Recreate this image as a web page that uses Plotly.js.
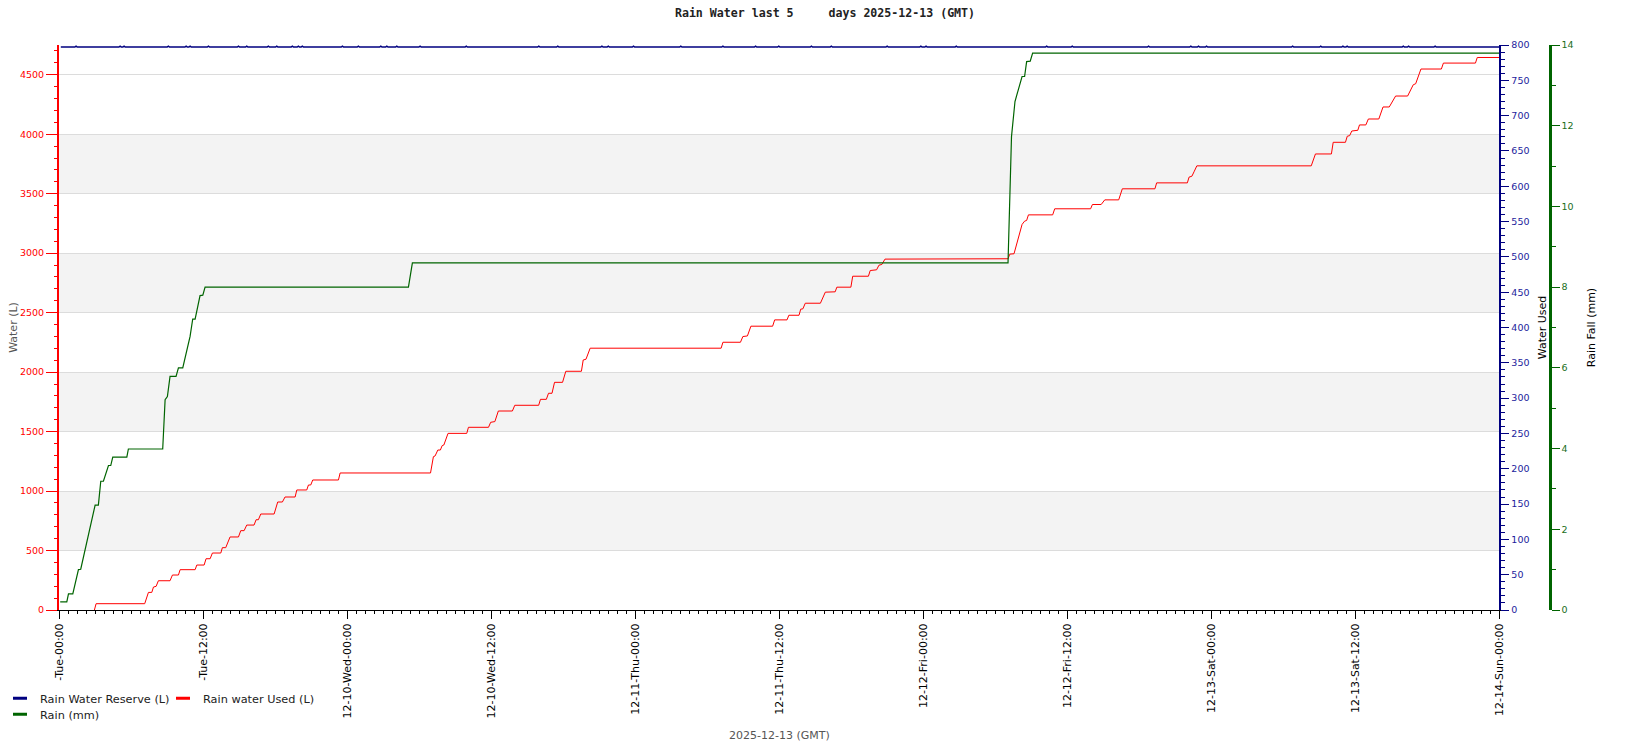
<!DOCTYPE html>
<html>
<head>
<meta charset="utf-8">
<script src="https://cdn.plot.ly/plotly-3.0.1.min.js"></script>
<style>html,body{margin:0;padding:0;background:#fff}#chart{width:1650px;height:750px}</style>
</head>
<body>
<div id="chart"></div>
<script>
// x values are hours since 2025-12-09 00:00 GMT
const tickHours = [0, 12, 24, 36, 48, 60, 72, 84, 96, 108, 120];
const tickLabels = ["-Tue-00:00", "-Tue-12:00", "12-10-Wed-00:00", "12-10-Wed-12:00",
  "12-11-Thu-00:00", "12-11-Thu-12:00", "12-12-Fri-00:00", "12-12-Fri-12:00",
  "12-13-Sat-00:00", "12-13-Sat-12:00", "12-14-Sun-00:00"];

// Rain Water Reserve (L) — [hour, value] on the right "Water Used" axis
const reservePts = [
  [0.15,797],
  [1.32,797],[1.42,798.4],[1.52,797],
  [4.99,797],[5.09,798.4],[5.19,797],
  [5.32,797],[5.42,798.4],[5.52,797],
  [9.01,797],[9.11,798.4],[9.21,797],
  [10.49,797],[10.59,798.4],[10.69,797],
  [10.82,797],[10.92,798.4],[11.02,797],
  [12.35,797],[12.45,798.4],[12.55,797],
  [14.85,797],[14.95,798.4],[15.05,797],
  [15.54,797],[15.64,798.4],[15.74,797],
  [17.34,797],[17.44,798.4],[17.54,797],
  [18.04,797],[18.14,798.4],[18.24,797],
  [19.34,797],[19.44,798.4],[19.54,797],
  [19.84,797],[19.94,798.4],[20.04,797],
  [20.17,797],[20.27,798.4],[20.37,797],
  [23.51,797],[23.61,798.4],[23.71,797],
  [24.84,797],[24.94,798.4],[25.04,797],
  [26.71,797],[26.81,798.4],[26.91,797],
  [27.21,797],[27.31,798.4],[27.41,797],
  [28.04,797],[28.14,798.4],[28.24,797],
  [29.98,797],[30.08,798.4],[30.18,797],
  [33.83,797],[33.93,798.4],[34.03,797],
  [39.87,797],[39.97,798.4],[40.07,797],
  [41.45,797],[41.55,798.4],[41.65,797],
  [45.13,797],[45.23,798.4],[45.33,797],
  [45.66,797],[45.76,798.4],[45.86,797],
  [47.76,797],[47.86,798.4],[47.96,797],
  [51.70,797],[51.80,798.4],[51.90,797],
  [55.21,797],[55.31,798.4],[55.41,797],
  [57.93,797],[58.03,798.4],[58.13,797],
  [59.86,797],[59.96,798.4],[60.06,797],
  [62.58,797],[62.68,798.4],[62.78,797],
  [64.24,797],[64.34,798.4],[64.44,797],
  [68.89,797],[68.99,798.4],[69.09,797],
  [71.70,797],[71.80,798.4],[71.90,797],
  [72.13,797],[72.23,798.4],[72.33,797],
  [74.65,797],[74.75,798.4],[74.85,797],
  [82.18,797],[82.28,798.4],[82.38,797],
  [84.31,797],[84.41,798.4],[84.51,797],
  [90.67,797],[90.77,798.4],[90.87,797],
  [94.19,797],[94.29,798.4],[94.39,797],
  [94.83,797],[94.93,798.4],[95.03,797],
  [95.50,797],[95.60,798.4],[95.70,797],
  [102.67,797],[102.77,798.4],[102.87,797],
  [105.01,797],[105.11,798.4],[105.21,797],
  [106.86,797],[106.96,798.4],[107.06,797],
  [107.21,797],[107.31,798.4],[107.41,797],
  [111.89,797],[111.99,798.4],[112.09,797],
  [112.33,797],[112.43,798.4],[112.53,797],
  [114.54,797],[114.64,798.4],[114.74,797],
  [120,797]
];

// Rain water Used (L) — [hour, litres] on the left axis
const usedPts = [
  [2.95,0],[3.09,53],[7.14,53],[7.45,148],[7.73,148],[7.87,193],[8.09,199],[8.28,246],
  [9.25,246],[9.45,294],[9.95,294],[10.09,339],[11.34,339],[11.48,378],[12.09,378],
  [12.25,431],[12.59,431],[12.78,479],[13.48,479],[13.61,524],[13.89,524],[14.25,614],
  [14.95,614],[15.14,667],[15.42,667],[15.64,714],[16.25,714],[16.42,759],[16.61,759],
  [16.81,807],[17.92,807],[18.22,908],[18.61,908],[18.83,950],[19.67,950],[19.81,1009],
  [20.64,1009],[20.78,1051],[20.97,1051],[21.14,1093],[23.28,1093],[23.42,1152],
  [30.95,1152],[31.19,1289],[31.33,1295],[31.56,1345],[31.77,1345],[31.92,1382],
  [32.06,1387],[32.41,1485],[33.97,1485],[34.11,1536],[35.78,1536],[35.96,1578],
  [36.31,1584],[36.60,1673],[37.77,1673],[37.97,1721],[39.96,1721],[40.11,1771],
  [40.60,1771],[40.78,1822],[41.07,1822],[41.28,1914],[41.95,1914],[42.22,2007],
  [43.52,2007],[43.67,2102],[43.90,2108],[44.25,2201],[55.16,2201],[55.31,2251],
  [56.77,2251],[56.97,2299],[57.35,2304],[57.64,2386],[59.45,2386],[59.62,2439],
  [60.65,2439],[60.80,2478],[61.65,2478],[61.79,2529],[61.97,2532],[62.17,2579],
  [63.43,2579],[63.84,2672],[64.66,2675],[64.80,2714],[65.97,2714],[66.12,2806],
  [67.43,2806],[67.58,2854],[68.11,2860],[68.31,2899],[68.55,2905],[68.81,2950],
  [79.06,2953],[79.21,2992],[79.56,2995],[79.79,3074],[80.00,3149],[80.23,3241],
  [80.44,3269],[80.61,3275],[80.76,3322],[82.78,3322],[82.95,3373],[85.94,3373],
  [86.09,3409],[86.82,3409],[87.12,3448],[88.28,3448],[88.58,3541],[91.30,3541],
  [91.44,3591],[94.00,3591],[94.14,3639],[94.38,3647],[94.58,3689],[94.79,3734],
  [104.32,3734],[104.67,3834],[106.00,3834],[106.15,3932],[107.17,3932],[107.32,3983],
  [107.52,3988],[107.70,4027],[108.20,4033],[108.34,4078],[108.87,4078],[109.08,4128],
  [109.95,4128],[110.30,4229],[110.82,4229],[110.97,4257],[111.35,4321],[112.35,4321],
  [112.58,4366],[112.82,4416],[113.02,4424],[113.46,4548],[115.16,4548],[115.33,4598],
  [118.00,4598],[118.15,4645],[120,4645]
];

// Rain (mm) — [hour, mm] on the Rain Fall axis
const rainPts = [
  [0.10,0.20],[0.65,0.20],[0.79,0.40],[1.15,0.40],[1.62,1.00],[1.81,1.01],[3.01,2.60],
  [3.28,2.60],[3.48,3.19],[3.70,3.19],[4.12,3.58],[4.31,3.58],[4.48,3.79],[5.65,3.79],
  [5.78,3.99],[8.64,3.99],[8.84,5.21],[9.03,5.29],[9.25,5.79],[9.75,5.79],[9.95,6.00],
  [10.31,6.00],[10.92,6.78],[11.14,7.21],[11.34,7.21],[11.75,7.79],[11.98,7.80],
  [12.17,8.00],[29.11,8.00],[29.25,8.23],[29.44,8.60],[79.06,8.60],[79.27,10.66],
  [79.35,11.73],[79.64,12.60],[79.93,12.93],[80.23,13.22],[80.44,13.22],[80.61,13.59],
  [80.91,13.60],[81.11,13.80],[120,13.80]
];

const bandRanges = [[500,1000],[1500,2000],[2500,3000],[3500,4000]];
const xTitle = "2025-12-13 (GMT)";

const FONT = "DejaVu Sans, Verdana, sans-serif";
const col = {reserve:"#000080", used:"#ff0000", rain:"#006400"};

const xs = p => p.map(d => d[0]);
const ys = p => p.map(d => d[1]);

const traces = [
  {x: xs(usedPts), y: ys(usedPts), yaxis: "y", mode: "lines", name: "Rain water Used (L)",
   line: {color: col.used, width: 1}, showlegend: false, hoverinfo: "skip"},
  {x: xs(rainPts), y: ys(rainPts), yaxis: "y3", mode: "lines", name: "Rain (mm)",
   line: {color: col.rain, width: 1.2}, showlegend: false, hoverinfo: "skip"},
  {x: xs(reservePts), y: ys(reservePts), yaxis: "y2", mode: "lines", name: "Rain Water Reserve (L)",
   line: {color: col.reserve, width: 1.5}, showlegend: false, hoverinfo: "skip"},
  // legend entries (short bar symbols like the reference)
  {x: [null], y: [null], mode: "markers", name: "Rain Water Reserve (L)", legend: "legend",
   marker: {symbol: "line-ew", size: 10, color: col.reserve, line: {width: 3, color: col.reserve}}},
  {x: [null], y: [null], mode: "markers", name: "Rain water Used (L)", legend: "legend",
   marker: {symbol: "line-ew", size: 10, color: col.used, line: {width: 3, color: col.used}}},
  {x: [null], y: [null], mode: "markers", name: "Rain (mm)", legend: "legend2",
   marker: {symbol: "line-ew", size: 10, color: col.rain, line: {width: 3, color: col.rain}}}
];

const shapes = bandRanges.map(r => ({
  type: "rect", xref: "x domain", x0: 0, x1: 1, yref: "y", y0: r[0], y1: r[1],
  fillcolor: "#f3f3f3", line: {width: 0}, layer: "below"
}));

const legendBase = {
  orientation: "h", xref: "paper", x: -0.0475, xanchor: "left",
  yref: "container", yanchor: "middle",
  font: {family: FONT, size: 11.3, color: "#222"},
  bgcolor: "rgba(0,0,0,0)", borderwidth: 0,
  entrywidth: 118, entrywidthmode: "pixels", itemwidth: 30
};

const layout = {
  width: 1650, height: 750,
  margin: {l: 59, r: 100, t: 45, b: 140},
  paper_bgcolor: "#fff", plot_bgcolor: "#fff",
  font: {family: FONT, size: 10, color: "#000"},
  title: {
    text: "Rain Water last 5\u00a0\u00a0\u00a0\u00a0\u00a0days 2025-12-13 (GMT)",
    font: {family: "DejaVu Sans Mono, monospace", size: 11.6, color: "#222", weight: "bold"},
    xref: "container", x: 0.5, xanchor: "center",
    yref: "container", y: 1 - 12.6/750, yanchor: "middle"
  },
  xaxis: {
    domain: [0, 0.9661], range: [0, 120],
    tickmode: "array", tickvals: tickHours, ticktext: tickLabels, tickangle: -90,
    ticks: "outside", ticklen: 8, tickcolor: "#000", tickwidth: 1,
    tickfont: {family: FONT, size: 11, color: "#000"},
    showline: true, linecolor: "#000", linewidth: 1,
    showgrid: false, zeroline: false,
    minor: {tickmode: "linear", tick0: 0, dtick: 0.75, ticks: "outside", ticklen: 3, tickcolor: "#000", showgrid: false}
  },
  yaxis: {
    range: [0, 4750], tickmode: "linear", tick0: 0, dtick: 500,
    ticks: "outside", ticklen: 11, tickcolor: "#ff0000", tickwidth: 1,
    tickfont: {family: FONT, size: 9.5, color: "#ff0000"},
    showline: true, linecolor: "#ff0000", linewidth: 2,
    showgrid: true, gridcolor: "#dcdcdc", gridwidth: 1, zeroline: false,
    minor: {tickmode: "linear", tick0: 0, dtick: 100, ticks: "outside", ticklen: 3, tickcolor: "#ff0000", showgrid: false},
    title: {text: "Water (L)", font: {family: FONT, size: 11, color: "#555"}, standoff: 0}
  },
  yaxis2: {
    overlaying: "y", side: "right", anchor: "x",
    range: [0, 800], tickmode: "linear", tick0: 0, dtick: 50,
    ticks: "outside", ticklen: 8, tickcolor: "#000080", tickwidth: 1,
    tickfont: {family: FONT, size: 9.5, color: "#1c1c9c"},
    showline: true, linecolor: "#000080", linewidth: 2,
    showgrid: false, zeroline: false,
    minor: {tickmode: "linear", tick0: 0, dtick: 10, ticks: "outside", ticklen: 4, tickcolor: "#000080", showgrid: false},
    title: {text: "Water Used", font: {family: FONT, size: 11, color: "#000"}, standoff: 10}
  },
  yaxis3: {
    overlaying: "y", side: "right", anchor: "free", position: 1,
    range: [0, 14], tickmode: "linear", tick0: 0, dtick: 2,
    ticks: "outside", ticklen: 8, tickcolor: "#006400", tickwidth: 1,
    tickfont: {family: FONT, size: 9.5, color: "#1a6e1a"},
    showline: true, linecolor: "#006400", linewidth: 2.5,
    showgrid: false, zeroline: false,
    minor: {tickmode: "linear", tick0: 0, dtick: 1, ticks: "outside", ticklen: 4, tickcolor: "#006400", showgrid: false},
    title: {text: "Rain Fall (mm)", font: {family: FONT, size: 11, color: "#000"}, standoff: 14}
  },
  annotations: [{
    text: xTitle, showarrow: false,
    xref: "x domain", x: 0.5, xanchor: "center",
    yref: "paper", y: -(735.5 - 610) / 565, yanchor: "middle",
    font: {family: FONT, size: 11, color: "#555"}
  }],
  legend: Object.assign({}, legendBase, {y: 1 - 698.3/750}),
  legend2: Object.assign({}, legendBase, {y: 1 - 714.3/750}),
  shapes: shapes,
  showlegend: true
};

Plotly.newPlot("chart", traces, layout, {displayModeBar: false, staticPlot: true});
</script>
</body>
</html>
